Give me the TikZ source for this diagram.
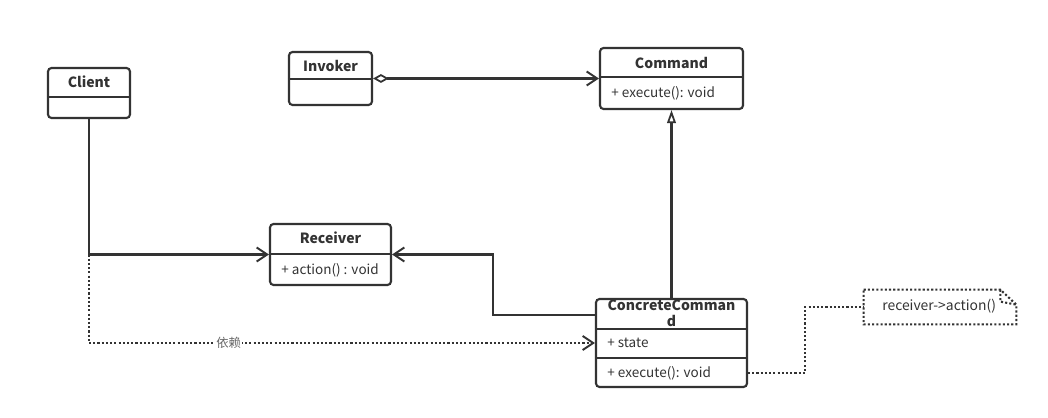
\documentclass[tikz,border=0pt]{standalone}
\usepackage{fontspec}
\setmainfont{Noto Sans CJK SC}
\usepackage{tikz}
\usetikzlibrary{arrows.meta, calc}

\definecolor{umlline}{HTML}{333333}
\definecolor{umltext}{HTML}{333333}

\tikzset{
  classbox/.style={draw=umlline, line width=1.2pt, rounded corners=2pt, inner sep=0pt},
  classname/.style={font=\fontsize{8}{9.2}\selectfont\bfseries, text=umltext, align=center, inner sep=0pt},
  member/.style={font=\fontsize{7.7}{8}\selectfont, text=umltext, anchor=west, inner sep=0pt},
  divider/.style={draw=umlline, line width=1.2pt},
  assoc/.style={draw=umlline, line width=1.2pt, -{Straight Barb[length=6pt,width=8pt,line width=1.1pt]}},
  aggr/.style={draw=umlline, line width=1.2pt, {Diamond[open,length=9pt,width=5pt,line width=1pt]}-{Straight Barb[length=6pt,width=8pt,line width=1.1pt]}},
  inherit/.style={draw=umlline, line width=1.2pt, -{Triangle[open,length=7.5pt,width=5pt,line width=1pt]}},
  dep/.style={draw=umlline, line width=1.2pt, dash pattern=on 1.2pt off 1.2pt}
}

\begin{document}
\begin{tikzpicture}[x=0.02cm, y=-0.02cm]
  \useasboundingbox (0,0) rectangle (1048,418);

  % class boxes
  \node[classbox, minimum width=1.64cm, minimum height=1.0cm] (client) at (89,93) {};
  \node[classbox, minimum width=1.66cm, minimum height=1.06cm] (invoker) at (330.5,78.5) {};
  \node[classbox, minimum width=2.86cm, minimum height=1.22cm] (command) at (671.5,78.5) {};
  \node[classbox, minimum width=2.42cm, minimum height=1.22cm] (receiver) at (330.5,254.5) {};
  \node[classbox, minimum width=3.02cm, minimum height=1.76cm] (concrete) at (671.5,343) {};

  % dividers
  \draw[divider] (client.west |- 0,97) -- (client.east |- 0,97);
  \draw[divider] (invoker.west |- 0,79) -- (invoker.east |- 0,79);
  \draw[divider] (command.west |- 0,77) -- (command.east |- 0,77);
  \draw[divider] (receiver.west |- 0,254) -- (receiver.east |- 0,254);
  \draw[divider] (concrete.west |- 0,329) -- (concrete.east |- 0,329);
  \draw[divider] (concrete.west |- 0,358) -- (concrete.east |- 0,358);

  % names and members
  \node[classname] (clientname) at (89,82) {Client};
  \node[classname] (invokername) at (330.5,66) {Invoker};
  \node[classname] (commandname) at (671.5,63) {Command};
  \node[member] (commandexec) at (611,93) {+ execute(): void};
  \node[classname] (receivername) at (330.5,238) {Receiver};
  \node[member] (receiveraction) at (281,270) {+ action() : void};
  \node[classname] (concretename) at (671.5,313) {ConcreteComman\\d};
  \node[member] (concretestate) at (607,343) {+ state};
  \node[member] (concreteexec) at (607,373) {+ execute(): void};

  % note
  \node[inner sep=0pt, minimum width=3.04cm, minimum height=0.68cm] (note) at (940,307) {};
  \draw[dep] (note.north west) -- ($(note.north east)+(-16,0)$) -- ($(note.north east)+(0,15)$) -- (note.south east) -- (note.south west) -- cycle;
  \draw[dep] ($(note.north east)+(-16,0)$) -- ($(note.north east)+(-16,12)$) -- ($(note.north east)+(0,15)$);
  \node[member, font=\fontsize{7.9}{8}\selectfont] (notetext) at (882,306) {receiver->action()};

  % connectors
  \draw[aggr] (invoker.east) -- (command.west);
  \draw[inherit] (concrete.north) -- (command.south);
  \coordinate (split) at (client.south |- receiver.west);
  \draw[assoc] (client.south) -- (split) -- (receiver.west);
  \draw[assoc] (concrete.west |- 0,315) -| (493,254.5) -- (receiver.east);
  \draw[dep] (split) |- (concrete.west)
    node[pos=0.638, fill=white, inner sep=0.5pt, text=gray!80!black, font=\fontsize{7}{7}\selectfont] (deplabel) {依赖};
  \draw[assoc] ($(concrete.west)+(-1,0)$) -- (concrete.west);
  \draw[dep] (concrete.east |- 0,373) -| (805,307) -- (note.west);
\end{tikzpicture}
\end{document}
